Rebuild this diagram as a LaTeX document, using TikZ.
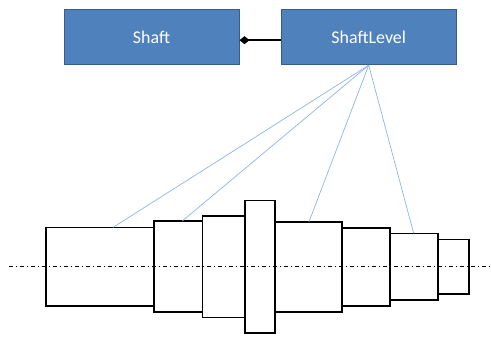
\documentclass[tikz,border=0pt]{standalone}
\usepackage{fontspec}
\setmainfont{Carlito}
\usetikzlibrary{arrows.meta}
\definecolor{boxfill}{HTML}{4F81BD}
\definecolor{boxborder}{HTML}{385D8A}
\definecolor{levelblue}{HTML}{8EB4E3}
\tikzset{
  classbox/.style={draw=boxborder, fill=boxfill, text=white, line width=1bp,
    minimum width=175bp, minimum height=55bp, inner sep=0pt,
    font=\fontsize{18}{20}\selectfont},
  levelline/.style={draw=levelblue, line width=0.7bp},
  stepline/.style={line width=1.6bp},
  axisline/.style={line width=0.8bp, dash pattern=on 4bp off 3bp on 1bp off 3bp}
}
\begin{document}
\begin{tikzpicture}[x=1bp,y=1bp]
\useasboundingbox (0,0) rectangle (491,341);
\node[classbox] (shaft) at (151.5,303.8) {Shaft};
\node[classbox] (level) at (368.7,303.8) {ShaftLevel};
\draw[line width=1.6bp, -{Diamond[length=10bp,width=8bp]}] ([yshift=-3bp]level.west) -- ([yshift=-3bp]shaft.east);

% axis
\draw[axisline] (9,74.3)--(491,74.3);
% shaft steps
\foreach \a/\b/\h in {45.7/154/39.3, 154/202.3/45.5, 202.3/245/50.8, 245/275/66.3,
  275/341.7/45, 341.7/389.7/39, 389.7/438/33.3, 438/468.7/27.3}{
\draw[stepline] (\a,74.3-\h) rectangle (\b,74.3+\h);
}

\coordinate (l1) at (113,113.6);
\coordinate (l2) at (182,119.8);
\coordinate (l3) at (309,119.3);
\coordinate (l4) at (413.7,107.6);
\foreach \p in {l1,l2,l3,l4}{
\draw[levelline] (level.south) -- (\p);
}
\end{tikzpicture}
\end{document}
